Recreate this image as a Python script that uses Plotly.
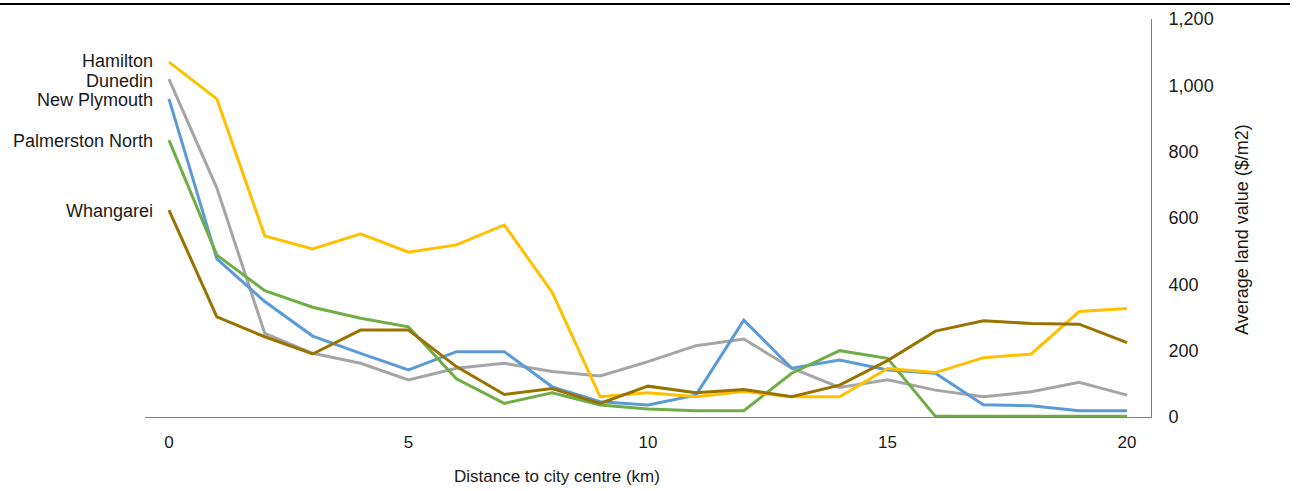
import plotly.graph_objects as go

distance = list(range(21))
hamilton = [1070, 959, 546, 507, 552, 497, 519, 579, 376, 61, 73, 61, 77, 61, 61, 146, 134, 179, 190, 318, 327]
dunedin = [1019, 690, 252, 192, 162, 112, 147, 162, 137, 124, 167, 215, 235, 147, 89, 112, 81, 61, 76, 105, 66]
new_plymouth = [959, 477, 348, 244, 192, 142, 197, 197, 91, 46, 36, 66, 292, 147, 172, 142, 132, 37, 34, 19, 19]
palmerston_north = [835, 488, 381, 331, 298, 272, 115, 41, 73, 36, 24, 19, 19, 132, 200, 177, 2, 2, 2, 2, 2]
whangarei = [624, 302, 242, 190, 262, 262, 152, 68, 86, 41, 93, 73, 83, 61, 96, 170, 259, 290, 282, 280, 224]

series = [
    ("Hamilton", hamilton, "#FFC000", 1),
    ("Dunedin", dunedin, "#A5A5A5", -2),
    ("New Plymouth", new_plymouth, "#5B9BD5", -1),
    ("Palmerston North", palmerston_north, "#70AD47", -1),
    ("Whangarei", whangarei, "#997300", -1),
]

L, R, T, B = 145, 145, 19, 74
W, H = 1296, 491
pw = W - L - R
ph = H - T - B

fig = go.Figure()
order = ["Dunedin", "New Plymouth", "Palmerston North", "Hamilton", "Whangarei"]
lookup = {s[0]: s for s in series}
for name in order:
    n, vals, col, _ = lookup[name]
    fig.add_trace(go.Scatter(x=distance, y=vals, mode="lines", name=n,
                             line=dict(color=col, width=3), showlegend=False))

for n, vals, col, ys in series:
    fig.add_annotation(x=0, y=vals[0], text=n, showarrow=False, xanchor="right", yanchor="middle",
                       xshift=-14, yshift=ys, font=dict(size=18, color="#1a1a1a"))

fig.add_annotation(x=(557 - L) / pw, y=(H - B - 476) / ph, xref="paper", yref="paper",
                   xanchor="center", yanchor="middle",
                   text="Distance to city centre (km)", showarrow=False,
                   font=dict(size=17, color="#1a1a1a"))

fig.add_annotation(x=(1242 - L) / pw, y=(H - B - 230) / ph, xref="paper", yref="paper",
                   xanchor="center", yanchor="middle",
                   text="Average land value ($/m2)", textangle=-90, showarrow=False,
                   font=dict(size=18, color="#1a1a1a"))

fig.update_layout(
    width=W, height=H,
    margin=dict(l=L, r=R, t=T, b=B, autoexpand=False),
    paper_bgcolor="white", plot_bgcolor="white",
    font=dict(family="Liberation Sans, Arial, sans-serif", size=18, color="#1a1a1a"),
    xaxis=dict(range=[-0.5, 20.5], tickvals=[0, 5, 10, 15, 20], showgrid=False, zeroline=False,
               showline=True, linecolor="#7f7f7f", linewidth=1, ticks="", ticklen=0,
               ticklabelstandoff=10, tickfont=dict(size=17), automargin=False),
    yaxis=dict(range=[0, 1200], tickvals=[0, 200, 400, 600, 800, 1000, 1200], tickformat=",",
               side="right", showgrid=False, zeroline=False, showline=True, linecolor="#7f7f7f",
               linewidth=1, ticks="", ticklabelstandoff=13, tickfont=dict(size=18), automargin=False),
)

fig.add_shape(type="line", xref="paper", yref="paper",
              x0=(0 - L) / pw, x1=(1290 - L) / pw,
              y0=(H - B - 4) / ph, y1=(H - B - 4) / ph,
              line=dict(color="black", width=2))

fig.write_html("out.html", config={"displayModeBar": False},
               post_script="document.body.style.margin='0px';")
